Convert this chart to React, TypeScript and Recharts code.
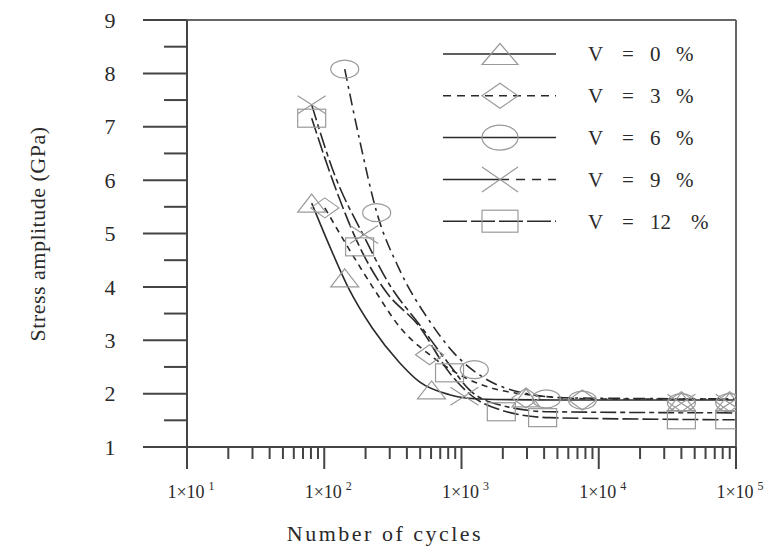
import React from 'react'
import { ComposedChart, Line, Scatter, XAxis, YAxis, ReferenceLine, Legend, Label } from 'recharts'

type Pt = { n: number; s: number }
type MarkerKind = 'triangle' | 'diamond' | 'circle' | 'cross' | 'square'

const FONT = '"Liberation Serif", "Times New Roman", serif'
const INK = '#2a2a2a'
const MARK = '#9a9a9a'

const volumeFractions = ['0', '3', '6', '9', '12']

// measured stress amplitude (GPa) vs number of cycles
const v0Points: Pt[] = [
  { n: 81, s: 5.57 }, { n: 141, s: 4.17 }, { n: 605, s: 2.07 },
  { n: 2950, s: 1.92 }, { n: 40000, s: 1.85 }, { n: 90000, s: 1.85 },
]
const v3Points: Pt[] = [
  { n: 101, s: 5.48 }, { n: 585, s: 2.73 }, { n: 2950, s: 1.92 },
  { n: 7600, s: 1.88 }, { n: 40000, s: 1.85 }, { n: 90000, s: 1.85 },
]
const v6Points: Pt[] = [
  { n: 141, s: 8.08 }, { n: 241, s: 5.39 }, { n: 1240, s: 2.45 }, { n: 4150, s: 1.9 },
  { n: 7600, s: 1.88 }, { n: 40000, s: 1.83 }, { n: 90000, s: 1.83 },
]
const v9Points: Pt[] = [
  { n: 81, s: 7.41 }, { n: 195, s: 4.98 }, { n: 1050, s: 1.95 },
  { n: 40000, s: 1.82 }, { n: 90000, s: 1.82 },
]
const v12Points: Pt[] = [
  { n: 81, s: 7.16 }, { n: 181, s: 4.75 }, { n: 818, s: 2.39 }, { n: 1950, s: 1.66 },
  { n: 3900, s: 1.55 }, { n: 40000, s: 1.51 }, { n: 90000, s: 1.51 },
]

// fitted S-N curves
const v0Fit: Pt[] = [
  { n: 81, s: 5.57 }, { n: 110, s: 4.75 }, { n: 150, s: 3.98 }, { n: 225, s: 3.22 },
  { n: 354, s: 2.58 }, { n: 495, s: 2.22 }, { n: 818, s: 1.98 }, { n: 1350, s: 1.9 },
  { n: 5000, s: 1.88 }, { n: 98000, s: 1.88 },
]
const v3Fit: Pt[] = [
  { n: 101, s: 5.48 }, { n: 153, s: 4.69 }, { n: 233, s: 3.94 }, { n: 354, s: 3.25 },
  { n: 585, s: 2.73 }, { n: 1143, s: 2.26 }, { n: 2630, s: 2.0 }, { n: 10000, s: 1.9 },
  { n: 98000, s: 1.9 },
]
const v6Fit: Pt[] = [
  { n: 141, s: 8.08 }, { n: 181, s: 6.75 }, { n: 241, s: 5.4 }, { n: 354, s: 4.32 },
  { n: 585, s: 3.36 }, { n: 889, s: 2.75 }, { n: 1352, s: 2.35 }, { n: 2630, s: 2.03 },
  { n: 6100, s: 1.92 }, { n: 98000, s: 1.9 },
]
const v9Fit: Pt[] = [
  { n: 81, s: 7.41 }, { n: 119, s: 6.1 }, { n: 197, s: 4.92 }, { n: 299, s: 4.04 },
  { n: 495, s: 3.29 }, { n: 818, s: 2.54 }, { n: 1143, s: 2.07 }, { n: 1888, s: 1.79 },
  { n: 4370, s: 1.66 }, { n: 98000, s: 1.64 },
]
const v12Fit: Pt[] = [
  { n: 81, s: 7.16 }, { n: 115, s: 6.0 }, { n: 181, s: 4.75 }, { n: 276, s: 3.94 },
  { n: 495, s: 3.25 }, { n: 818, s: 2.39 }, { n: 1245, s: 1.92 }, { n: 1888, s: 1.7 },
  { n: 4370, s: 1.55 }, { n: 98000, s: 1.51 },
]

const yTicks = [1, 1.5, 2, 2.5, 3, 3.5, 4, 4.5, 5, 5.5, 6, 6.5, 7, 7.5, 8, 8.5, 9]
const decades = [10, 100, 1000, 10000]
const mantissas = [1, 2, 3, 4, 5, 6, 7, 8, 9]
const xTicks = [...decades.flatMap((d) => mantissas.map((m) => m * d)), 100000]

const series = [
  { pts: v0Points, fit: v0Fit, marker: 'triangle' as MarkerKind, dash: undefined },
  { pts: v3Points, fit: v3Fit, marker: 'diamond' as MarkerKind, dash: '6 5' },
  { pts: v6Points, fit: v6Fit, marker: 'circle' as MarkerKind, dash: '12 5 3 5' },
  { pts: v9Points, fit: v9Fit, marker: 'cross' as MarkerKind, dash: '16 4 5 4' },
  { pts: v12Points, fit: v12Fit, marker: 'square' as MarkerKind, dash: '16 4' },
]

function Marker({ kind, cx, cy, w, h }: { kind: MarkerKind; cx: number; cy: number; w: number; h: number }) {
  const hw = w / 2
  const hh = h / 2
  const st = { fill: 'none', stroke: MARK, strokeWidth: 1.2 }
  switch (kind) {
    case 'triangle':
      return <polygon points={`${cx},${cy - hh} ${cx + hw},${cy + hh} ${cx - hw},${cy + hh}`} {...st} />
    case 'diamond':
      return <polygon points={`${cx},${cy - hh} ${cx + hw},${cy} ${cx},${cy + hh} ${cx - hw},${cy}`} {...st} />
    case 'circle':
      return <ellipse cx={cx} cy={cy} rx={hw} ry={hh} {...st} />
    case 'cross':
      return <path d={`M${cx - hw},${cy - hh}L${cx + hw},${cy + hh}M${cx + hw},${cy - hh}L${cx - hw},${cy + hh}`} {...st} />
    default:
      return <rect x={cx - hw} y={cy - hh} width={w} height={h} {...st} />
  }
}

const YTick = (props: any) => {
  const { x, y, payload } = props
  const v = payload.value as number
  const major = Number.isInteger(v)
  return (
    <g>
      <line x1={x - (major ? 44 : 23)} x2={x} y1={y} y2={y} stroke="#444" strokeWidth={2} />
      {major && (
        <text x={x - 77} y={y} dy="0.35em" textAnchor="middle" fontSize={22} fontFamily={FONT} fill={INK}>
          {v}
        </text>
      )}
    </g>
  )
}

const XTick = (props: any) => {
  const { x, y, payload } = props
  const v = payload.value as number
  const e = Math.round(Math.log10(v))
  const major = Math.abs(Math.log10(v) - e) < 1e-9
  return (
    <g>
      <line x1={x} x2={x} y1={y} y2={y + (major ? 22 : 12)} stroke="#444" strokeWidth={2} />
      {major && (
        <text x={x + 4} y={y + 51} textAnchor="middle" fontSize={18} fontFamily={FONT} fill={INK}>
          1×10
          <tspan dx={4} dy={-8} fontSize={12}>{e}</tspan>
        </text>
      )}
    </g>
  )
}

const LegendBox = () => (
  <svg width={300} height={215}>
    {series.map((s, i) => {
      const y = 21 + i * 41.8
      const label = volumeFractions[i]
      return (
        <g key={label}>
          {i === 3 ? (
            <>
              <line x1={5} x2={62} y1={y} y2={y} stroke={INK} strokeWidth={1.5} />
              <line x1={62} x2={118} y1={y} y2={y} stroke={INK} strokeWidth={1.5} strokeDasharray="9 7" />
            </>
          ) : (
            <line
              x1={5}
              x2={118}
              y1={y}
              y2={y}
              stroke={INK}
              strokeWidth={1.5}
              strokeDasharray={i === 1 ? '8 6' : i === 4 ? '24 4' : undefined}
            />
          )}
          <Marker kind={s.marker} cx={62} cy={y} w={36} h={i === 0 ? 21 : i === 4 ? 22 : 25} />
          <text y={y} dy="0.35em" fontSize={21} fontFamily={FONT} fill={INK}>
            <tspan x={150}>V</tspan>
            <tspan x={184}>=</tspan>
            <tspan x={212}>{label}</tspan>
            <tspan x={label.length > 1 ? 253 : 238}>%</tspan>
          </text>
        </g>
      )
    })}
  </svg>
)

export default function App() {
  return (
    <ComposedChart width={760} height={540} margin={{ top: 12, right: 32, bottom: 0, left: 0 }}>
      <XAxis
        dataKey="n"
        type="number"
        scale="log"
        domain={[10, 100000]}
        allowDataOverflow
        ticks={xTicks}
        interval={0}
        height={101}
        tickSize={0}
        tickMargin={0}
        tickLine={false}
        tick={<XTick />}
        axisLine={{ stroke: '#444', strokeWidth: 2 }}
      >
        <Label
          content={() => (
            <text x={377} y={533} textAnchor="middle" fontSize={22} letterSpacing={2.5} fontFamily={FONT} fill={INK}>
              Number of cycles
            </text>
          )}
        />
      </XAxis>
      <YAxis
        dataKey="s"
        type="number"
        domain={[1, 9]}
        ticks={yTicks}
        interval={0}
        width={179}
        tickSize={0}
        tickMargin={0}
        tickLine={false}
        tick={<YTick />}
        axisLine={{ stroke: '#444', strokeWidth: 2 }}
      >
        <Label
          content={() => (
            <text
              transform="translate(29,226) rotate(-90)"
              textAnchor="middle"
              dy="0.35em"
              fontSize={22}
              letterSpacing={0.5}
              fontFamily={FONT}
              fill={INK}
            >
              Stress amplitude (GPa)
            </text>
          )}
        />
      </YAxis>
      <ReferenceLine y={9} stroke="#666" strokeWidth={2} />
      <ReferenceLine x={100000} stroke="#666" strokeWidth={2} />
      {series.map((s, i) => (
        <Line
          key={`fit-${i}`}
          data={s.fit}
          dataKey="s"
          type="monotone"
          stroke={INK}
          strokeWidth={1.6}
          strokeDasharray={s.dash}
          dot={false}
          activeDot={false}
          legendType="none"
          isAnimationActive={false}
        />
      ))}
      {series.map((s, i) => (
        <Scatter
          key={`pts-${i}`}
          data={s.pts}
          dataKey="s"
          legendType="none"
          isAnimationActive={false}
          shape={(p: any) => <Marker kind={s.marker} cx={p.cx} cy={p.cy} w={28} h={i === 1 ? 20 : 18} />}
        />
      ))}
      <Legend
        layout="vertical"
        align="center"
        verticalAlign="middle"
        content={<LegendBox />}
        wrapperStyle={{ left: 430, top: 25, width: 300 }}
      />
    </ComposedChart>
  )
}
